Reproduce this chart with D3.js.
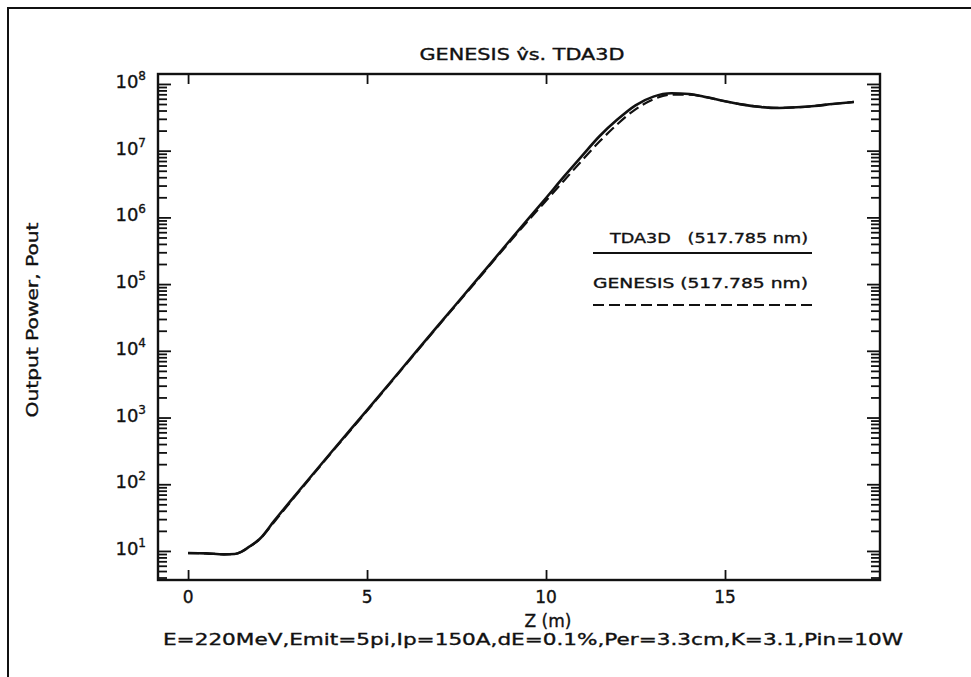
<!DOCTYPE html>
<html>
<head>
<meta charset="utf-8">
<script src="https://cdn.jsdelivr.net/npm/d3@7"></script>
<style>
body { margin: 0; background: #fff; }
text { font-family: "DejaVu Sans", sans-serif; fill: #111; stroke: #111; stroke-width: 0.35px; white-space: pre; }
</style>
</head>
<body>
<svg id="chart" width="971" height="677"></svg>
<script>
// values
var zTda = [0, 0.5, 1.0, 1.3, 1.5, 1.7, 2.0, 2.4, 3.0, 4.0, 5.0, 6.0, 7.0, 8.0, 9.0, 10.0, 10.5, 11.0, 11.5, 12.0, 12.5, 13.0, 13.5, 14.0, 14.5, 15.0, 15.5, 16.0, 16.5, 17.0, 17.5, 18.0, 18.6];
var powerTda = [9.3, 9.2, 8.9, 9.0, 9.8, 11.5, 15.1, 28, 69, 302, 1290, 5620, 24500, 105000, 457000, 1.95e6, 4.07e6, 8.3e6, 1.66e7, 2.95e7, 4.79e7, 6.46e7, 7.24e7, 7.08e7, 6.31e7, 5.5e7, 4.9e7, 4.52e7, 4.37e7, 4.47e7, 4.68e7, 5.01e7, 5.37e7];
var zGenesis = [0, 0.5, 1.0, 1.3, 1.5, 1.7, 2.0, 2.4, 3.0, 4.0, 5.0, 6.0, 7.0, 8.0, 9.0, 10.0, 10.5, 11.0, 11.5, 12.0, 12.5, 13.0, 13.5, 14.0, 14.5, 15.0, 15.5, 16.0, 16.5, 17.0, 17.5, 18.0, 18.6];
var powerGenesis = [9.3, 9.2, 8.9, 9.0, 9.8, 11.4, 15.0, 27, 67, 295, 1260, 5500, 24000, 102000, 440000, 1.78e6, 3.55e6, 7.08e6, 1.38e7, 2.51e7, 4.17e7, 5.89e7, 6.92e7, 6.92e7, 6.31e7, 5.5e7, 4.9e7, 4.52e7, 4.37e7, 4.47e7, 4.68e7, 5.01e7, 5.37e7];
var xTicks = [0, 5, 10, 15];
var yDecades = [1, 2, 3, 4, 5, 6, 7, 8];
var legendNames = ["TDA3D   (517.785 nm)", "GENESIS (517.785 nm)"];

var plotLeft = 158, plotRight = 880, plotTop = 74, plotBottom = 580;

var svg = d3.select("#chart");

var x = d3.scaleLinear().domain([-0.84, 19.33]).range([plotLeft, plotRight]);
var y = d3.scaleLog().domain([3.67, 1.41e8]).range([plotBottom, plotTop]);

var majors = yDecades.map(function (e) { return Math.pow(10, e); });
var minors = [];
for (var e = 0; e <= 8; e++) {
  for (var m = 2; m <= 9; m++) {
    var v = m * Math.pow(10, e);
    if (v >= y.domain()[0] && v <= y.domain()[1]) minors.push(v);
  }
}

// scan border
svg.append("path")
  .attr("d", "M8,677 L8,8 L971,8")
  .attr("fill", "none").attr("stroke", "#111").attr("stroke-width", 2);

// axes, ticks pointing inwards
function styleAxis(g) {
  g.select(".domain").remove();
  g.selectAll("line").attr("stroke", "#111").attr("stroke-width", 1.8);
  g.selectAll("text").remove();
}
svg.append("g").attr("transform", "translate(" + plotLeft + ",0)")
  .call(d3.axisLeft(y).tickValues(minors).tickSizeInner(-9).tickSizeOuter(0)).call(styleAxis);
svg.append("g").attr("transform", "translate(" + plotLeft + ",0)")
  .call(d3.axisLeft(y).tickValues(majors).tickSizeInner(-13).tickSizeOuter(0)).call(styleAxis);
svg.append("g").attr("transform", "translate(" + plotRight + ",0)")
  .call(d3.axisRight(y).tickValues(minors).tickSizeInner(-9).tickSizeOuter(0)).call(styleAxis);
svg.append("g").attr("transform", "translate(" + plotRight + ",0)")
  .call(d3.axisRight(y).tickValues(majors).tickSizeInner(-13).tickSizeOuter(0)).call(styleAxis);
svg.append("g").attr("transform", "translate(0," + plotBottom + ")")
  .call(d3.axisBottom(x).tickValues(xTicks).tickSizeInner(-10).tickSizeOuter(0)).call(styleAxis);
svg.append("g").attr("transform", "translate(0," + plotTop + ")")
  .call(d3.axisTop(x).tickValues(xTicks).tickSizeInner(-10).tickSizeOuter(0)).call(styleAxis);

svg.append("rect")
  .attr("x", plotLeft).attr("y", plotTop)
  .attr("width", plotRight - plotLeft).attr("height", plotBottom - plotTop)
  .attr("fill", "none").attr("stroke", "#111").attr("stroke-width", 2.4);

// tick labels
svg.selectAll(".xlab").data(xTicks).enter().append("text")
  .attr("class", "xlab")
  .attr("x", function (d) { return x(d); })
  .attr("y", plotBottom + 23)
  .attr("text-anchor", "middle")
  .style("font-size", "17px")
  .text(function (d) { return d; });

var ylab = svg.selectAll(".ylab").data(yDecades).enter().append("text")
  .attr("class", "ylab")
  .attr("x", 146)
  .attr("y", function (d) { return y(Math.pow(10, d)) + 4; })
  .attr("text-anchor", "end")
  .style("font-size", "18px");
ylab.append("tspan").text("10");
ylab.append("tspan").attr("dy", -8).style("font-size", "12px").text(function (d) { return d; });

// titles
svg.append("text")
  .attr("x", 522).attr("y", 60)
  .attr("text-anchor", "middle")
  .attr("textLength", 205).attr("lengthAdjust", "spacingAndGlyphs")
  .style("font-size", "15px")
  .text("GENESIS v\u0302s. TDA3D");

svg.append("text")
  .attr("x", 548).attr("y", 627)
  .attr("text-anchor", "middle")
  .style("font-size", "17px")
  .text("Z (m)");

svg.append("text")
  .attr("x", 533).attr("y", 645)
  .attr("text-anchor", "middle")
  .attr("textLength", 740).attr("lengthAdjust", "spacingAndGlyphs")
  .style("font-size", "16px")
  .text("E=220MeV,Emit=5pi,Ip=150A,dE=0.1%,Per=3.3cm,K=3.1,Pin=10W");

svg.append("text")
  .attr("transform", "translate(38,320) rotate(-90)")
  .attr("text-anchor", "middle")
  .attr("textLength", 195).attr("lengthAdjust", "spacingAndGlyphs")
  .style("font-size", "16px")
  .text("Output Power, Pout");

// curves
var line = d3.line()
  .x(function (d) { return x(d[0]); })
  .y(function (d) { return y(d[1]); })
  .curve(d3.curveMonotoneX);

svg.append("path")
  .datum(d3.zip(zGenesis, powerGenesis))
  .attr("d", line)
  .attr("fill", "none").attr("stroke", "#111").attr("stroke-width", 2.2)
  .attr("stroke-dasharray", "11,5");

svg.append("path")
  .datum(d3.zip(zTda, powerTda))
  .attr("d", line)
  .attr("fill", "none").attr("stroke", "#111").attr("stroke-width", 2.6);

// legend
var legend = svg.append("g");
legend.selectAll("text").data(legendNames).enter().append("text")
  .attr("x", function (d, i) { return i === 0 ? 610 : 593; })
  .attr("y", function (d, i) { return 243 + i * 45; })
  .attr("textLength", function (d, i) { return i === 0 ? 198 : 215; })
  .attr("lengthAdjust", "spacingAndGlyphs")
  .style("font-size", "14px")
  .text(function (d) { return d; });
legend.selectAll("line").data(legendNames).enter().append("line")
  .attr("x1", 593).attr("x2", 812)
  .attr("y1", function (d, i) { return 253 + i * 52; })
  .attr("y2", function (d, i) { return 253 + i * 52; })
  .attr("stroke", "#111").attr("stroke-width", 2)
  .attr("stroke-dasharray", function (d, i) { return i === 0 ? null : "11,5"; });
</script>
</body>
</html>
